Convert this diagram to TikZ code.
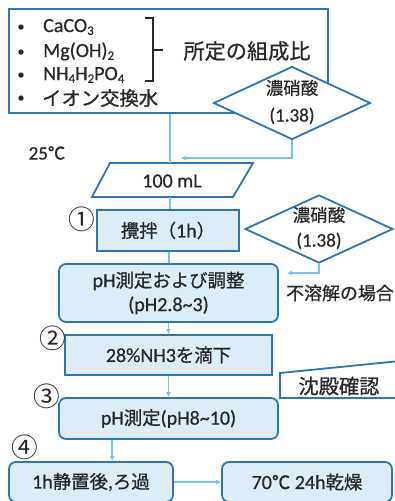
\documentclass[tikz,border=0pt]{standalone}
\usepackage{fontspec}
\setmainfont{Carlito}[FakeBold=0.6]
\newfontfamily\jp[Scale=0.92,FakeBold=0.8]{Noto Sans CJK JP}
\newfontfamily\jpn[Scale=0.92]{Noto Sans CJK JP}
\usetikzlibrary{shapes.geometric,arrows.meta}
\definecolor{bord}{RGB}{46,117,182}
\definecolor{boxfill}{RGB}{220,237,247}
\definecolor{linec}{RGB}{120,196,232}
\definecolor{txtc}{RGB}{40,40,40}
\newcommand\mysub[1]{\raisebox{-0.3ex}{\fontsize{13}{13}\selectfont #1}}
\begin{document}
\begin{tikzpicture}[x=1pt,y=-1pt,
  sq/.style={draw=bord, fill=boxfill, line width=1.8pt, inner sep=0pt, align=center, text=txtc, font=\fontsize{20}{24}\selectfont},
  rd/.style={sq, rounded corners=7pt},
  dia/.style={diamond, draw=bord, fill=white, line width=1.8pt, inner sep=0pt},
  lbl/.style={text=txtc, inner sep=0pt, align=center, font=\fontsize{20}{24}\selectfont},
  num/.style={text=txtc, inner sep=0pt, font=\fontsize{29}{29}\selectfont\jpn},
  link/.style={draw=linec, line width=1.3pt},
  arr/.style={link, -{Latex[length=5pt,width=5pt]}},
]
\useasboundingbox (0,0) rectangle (394,501);

% top materials box
\node[draw=bord, fill=white, line width=1.8pt, minimum width=319pt, minimum height=104pt, inner sep=0pt] (top) at (168.5,61) {};
\node[lbl, anchor=base, font=\fontsize{14}{14}\selectfont] (bu1) at (21,31) {\textbullet};
\node[lbl, anchor=base, font=\fontsize{14}{14}\selectfont] (bu2) at (21,56) {\textbullet};
\node[lbl, anchor=base, font=\fontsize{14}{14}\selectfont] (bu3) at (21,79) {\textbullet};
\node[lbl, anchor=base, font=\fontsize{14}{14}\selectfont] (bu4) at (21,102) {\textbullet};
\node[lbl, anchor=base west] (m1) at (43,32) {CaCO\mysub{3}};
\node[lbl, anchor=base west] (m2) at (43,57) {Mg(OH)\mysub{2}};
\node[lbl, anchor=base west] (m3) at (43,80) {NH\mysub{4}H\mysub{2}PO\mysub{4}};
\node[lbl, anchor=west, font=\fontsize{21}{24}\selectfont\jp] (m4) at (42,98) {イオン交換水};
\draw[txtc, line width=1.4pt] (145,18) -- (153,18) -- (153,81) -- (145,81);
\draw[txtc, line width=1.4pt] (153,50) -- (163,50);
\node[lbl, font=\fontsize{23}{24}\selectfont\jp] (ratio) at (247,51) {所定の組成比};

% nitric acid 1
\node[dia, minimum width=157pt, minimum height=73pt] (d1) at (292,103) {};
\node[lbl, font=\fontsize{19}{27}\selectfont] (d1t) at (292,102) {{\jp 濃硝酸}\\(1.38)};

\node[lbl, font=\fontsize{19}{22}\selectfont] (temp) at (47,153) {25{\jp ℃}};

% parallelogram 100 mL
\coordinate (partop) at (170,163);
\coordinate (parbot) at (170,197);
\draw[draw=bord, fill=white, line width=1.8pt] (110,163) -- (253,163) -- (233,197) -- (92,197) -- cycle;
\node[lbl] (part) at (172,181) {100 mL};

\coordinate (j1) at (181,158);
\draw[link] (top.south -| partop) -- (partop);
\draw[arr] (d1.south) |- (j1);

% step 1
\node[sq, minimum width=142pt, minimum height=41pt] (box1) at (168,230.5) {{\jp 攪拌（}1h{\jp ）}};
\node[num] (n1) at (82,219) {①};
\draw[link] (parbot) -- (parbot |- box1.north);

\node[dia, minimum width=148pt, minimum height=68pt] (d2) at (319,229) {};
\node[lbl, font=\fontsize{19}{25}\selectfont] (d2t) at (319,228) {{\jp 濃硝酸}\\(1.38)};

\node[rd, minimum width=219pt, minimum height=58pt] (box2) at (168.5,293) {pH{\jp 測定および調整}\\(pH2.8\textasciitilde3)};
\coordinate (j2) at (287,273);
\draw[arr] (d2.south) |- (j2);
\node[lbl, font=\fontsize{19.5}{22}\selectfont\jp] (insol) at (340,293) {不溶解の場合};
\draw[link] (box1.south -| 169,0) -- (box2.north -| 169,0);

% step 2
\node[sq, minimum width=207pt, minimum height=40pt] (box3) at (168.5,355) {28\%NH3{\jp を滴下}};
\node[num] (n2) at (53,338) {②};
\draw[arr] (box2.south) -- (box3.north);

\draw[draw=bord, fill=white, line width=1.8pt] (280,373) -- (400,361) -- (400,398) -- (280,398) -- cycle;
\node[lbl, font=\fontsize{22}{24}\selectfont\jp] (ppt) at (339,386) {沈殿確認};

% step 3
\node[rd, minimum width=219pt, minimum height=41pt] (box4) at (168.5,418.5) {pH{\jp 測定}(pH8\textasciitilde10)};
\node[num] (n3) at (47,396) {③};
\draw[arr] (box3.south) -- (box4.north);

% step 4
\node[num] (n4) at (25,447) {④};
\node[rd, minimum width=164pt, minimum height=40pt] (box5) at (91,482) {1h{\jp 静置後},{\jp ろ過}};
\node[rd, minimum width=170pt, minimum height=40pt] (box6) at (307,482) {70{\jp ℃} 24h{\jp 乾燥}};
\draw[arr] (box4.south west) ++(54,0) coordinate (k) -- (k |- box5.north);
\draw[arr] (box5.east) -- (box6.west);
\end{tikzpicture}
\end{document}
